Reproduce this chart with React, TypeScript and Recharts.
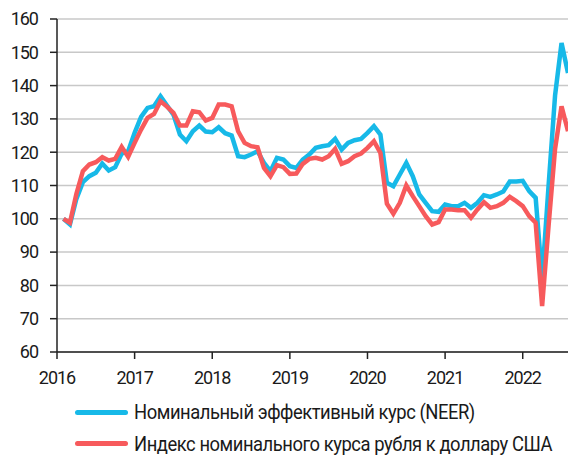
import React from 'react';
import { LineChart, Line, XAxis, YAxis, CartesianGrid, Legend } from 'recharts';

// month index: 0 = January 2016
const months = [
    1, 2, 3, 4, 5, 6, 7, 8, 9, 10, 11, 12, 13, 14, 15, 16, 17, 18, 19, 20,
    21, 22, 23, 24, 25, 26, 27, 28, 29, 30, 31, 32, 33, 34, 35, 36, 37, 38, 39, 40,
    41, 42, 43, 44, 45, 46, 47, 48, 49, 50, 51, 52, 53, 54, 55, 56, 57, 58, 59, 60,
    61, 62, 63, 64, 65, 66, 67, 68, 69, 70, 71, 72, 73, 74, 75, 76, 77, 78, 79,
];

const neer = [
    100, 98.3, 106, 111, 112.8, 113.8, 116.6, 114.5, 115.5, 119.6, 120.3, 125.8, 130.6, 133.3, 133.8, 136.8, 134, 131.3, 125.3, 123.3,
    126.3, 128, 126.2, 126, 127.5, 125.7, 125, 118.8, 118.5, 119.3, 120.3, 116.8, 114.3, 118.3, 117.8, 115.8, 115.3, 117.8, 119.3, 121.3,
    121.8, 122.1, 124, 120.8, 122.8, 123.6, 124, 125.8, 127.8, 125.3, 110.8, 109.8, 113.3, 116.8, 112.8, 107.3, 104.8, 102.3, 102.1, 104.3,
    103.8, 103.8, 104.8, 103.3, 104.8, 107.1, 106.6, 107.3, 108.2, 111.2, 111.2, 111.4, 108.3, 106.3, 82, 110, 137, 152.8, 143.8,
];

const usdIndex = [
    100, 98.8, 107.5, 114.3, 116.3, 117, 118.5, 117.5, 118, 121.6, 118.6, 122.8, 126.8, 130.3, 131.5, 135.3, 133.7, 131.8, 128, 128,
    132.3, 132, 129.5, 130.3, 134.3, 134.3, 133.8, 126.3, 122.8, 121.8, 121.5, 115.3, 112.8, 116.1, 115.5, 113.5, 113.6, 116.5, 118, 118.3,
    117.8, 118.8, 121, 116.5, 117.3, 118.8, 119.6, 121.3, 123.3, 119.8, 104.5, 101.5, 104.8, 110, 106.8, 103.8, 100.8, 98.3, 99, 102.8,
    102.8, 102.6, 102.6, 100.3, 102.8, 105, 103.3, 103.8, 104.8, 106.6, 105.3, 103.8, 100.8, 98.8, 73.8, 98, 121, 133.8, 126.3,
];

const years = ['2016', '2017', '2018', '2019', '2020', '2021', '2022'];
const yTicks = [60, 70, 80, 90, 100, 110, 120, 130, 140, 150, 160];

const seriesNames = ['Номинальный эффективный курс (NEER)', 'Индекс номинального курса рубля к доллару США'];
const colors = ['#17b9e8', '#f75a5c'];

const data = months.map((m, i) => ({ m, neer: neer[i], usd: usdIndex[i] }));
const yearTicks = years.map((_, i) => i * 12);

const font = 'Roboto, "Noto Sans", sans-serif';
const tickStyle = { fill: '#1a1a1a', fontSize: 18, fontFamily: font, letterSpacing: -1 };

const LegendBox = () => (
    <div style={{ position: 'relative', width: 493, height: 71, fontFamily: font }}>
        {seriesNames.map((name, i) => (
            <div
                key={name}
                style={{
                    position: 'absolute', left: 0, top: 16 + i * 31.5, height: 24,
                    display: 'flex', alignItems: 'center', whiteSpace: 'nowrap',
                }}
            >
                <span style={{ display: 'inline-block', width: 53, height: 5, borderRadius: 3, background: colors[i], marginRight: 6, flex: 'none' }} />
                <span
                    style={{
                        fontSize: 20, color: '#1a1a1a', letterSpacing: -0.5,
                        display: 'inline-block', transform: 'scaleX(0.92)', transformOrigin: 'left center',
                    }}
                >
                    {name}
                </span>
            </div>
        ))}
    </div>
);

const App = () => (
    <div style={{ position: 'absolute', left: 0, top: 0, width: 568, height: 455, overflow: 'hidden', background: '#fff' }}>
        <LineChart width={568} height={455} data={data} margin={{ top: 19, right: 0, left: 0, bottom: 0 }}>
            <CartesianGrid vertical={false} stroke="#c8c8c8" strokeWidth={1.5} />
            <XAxis
                dataKey="m"
                type="number"
                domain={[0, 79]}
                ticks={yearTicks}
                tickFormatter={(v: number) => years[v / 12]}
                height={32}
                tickSize={7}
                tickMargin={12}
                stroke="#222"
                strokeWidth={1.5}
                tick={tickStyle}
            />
            <YAxis
                domain={[60, 160]}
                ticks={yTicks}
                width={57}
                tickSize={7}
                tickMargin={12}
                stroke="#222"
                strokeWidth={1.5}
                interval={0}
                tick={tickStyle}
            />
            <Legend
                verticalAlign="bottom"
                align="left"
                content={() => <LegendBox />}
                wrapperStyle={{ left: 75, height: 71 }}
            />
            <Line type="linear" dataKey="neer" name={seriesNames[0]} stroke={colors[0]} strokeWidth={4.5} dot={false} isAnimationActive={false} />
            <Line type="linear" dataKey="usd" name={seriesNames[1]} stroke={colors[1]} strokeWidth={4.5} dot={false} isAnimationActive={false} />
        </LineChart>
    </div>
);

export default App;
